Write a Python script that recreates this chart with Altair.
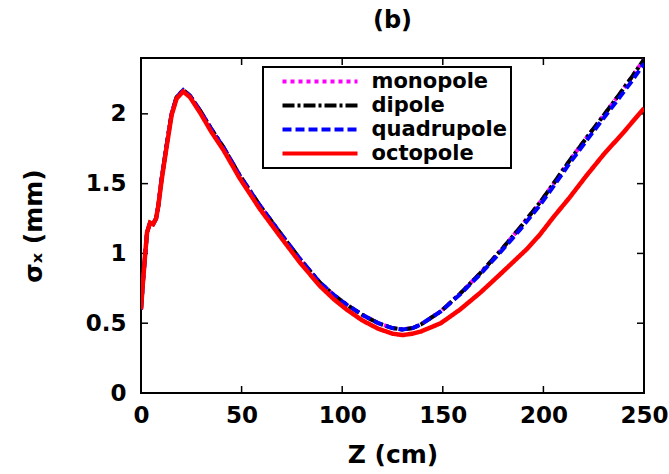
import altair as alt
import pandas as pd

series = ["monopole", "dipole", "quadrupole", "octopole"]
colors = ["#ff00ff", "#000000", "#0000ff", "#ff0000"]
dashes = [[4, 4], [12, 3, 3, 3], [9, 4], [1, 0]]

z_octo = [0, 1, 2, 3, 4.5, 6, 7.5, 8.6, 10.3, 12.8, 15.2, 17.7, 21, 24.3, 29.3, 35, 41, 49, 59, 69, 79, 89, 96,
          102, 110, 118, 125, 130, 135, 139, 149, 158.5, 168.5, 178.4, 191.7, 198, 205, 213, 221, 230, 240, 250]
s_octo = [0.60, 0.80, 0.98, 1.15, 1.22, 1.21, 1.25, 1.34, 1.53, 1.77, 1.99, 2.11, 2.16, 2.12, 2.01, 1.87, 1.74,
          1.54, 1.32, 1.125, 0.935, 0.765, 0.67, 0.60, 0.52, 0.46, 0.425, 0.415, 0.425, 0.44, 0.50, 0.597, 0.717,
          0.849, 1.03, 1.13, 1.26, 1.40, 1.55, 1.71, 1.87, 2.04]

z_quad = [0, 1, 2, 3, 4.5, 6, 7.5, 8.6, 10.3, 12.8, 15.2, 17.7, 21, 24.3, 29.3, 35, 41, 49, 59, 69, 79, 89, 96,
          102, 110, 118, 125, 130, 135, 139, 149, 158.5, 168.5, 178.4, 188.4, 198, 205, 213, 221.5, 230, 238, 244, 250]
s_quad = [0.60, 0.80, 0.98, 1.15, 1.22, 1.21, 1.25, 1.34, 1.54, 1.78, 2.00, 2.12, 2.17, 2.13, 2.025, 1.89, 1.76,
          1.56, 1.345, 1.15, 0.96, 0.79, 0.70, 0.635, 0.56, 0.50, 0.465, 0.455, 0.465, 0.49, 0.585, 0.705, 0.849,
          1.005, 1.17, 1.34, 1.48, 1.645, 1.81, 1.97, 2.12, 2.235, 2.36]

z_dip = [0, 1, 2, 3, 4.5, 6, 7.5, 8.6, 10.3, 12.8, 15.2, 17.7, 21, 24.3, 29.3, 35, 41, 49, 59, 69, 79, 89, 96,
         102, 110, 118, 125, 130, 135, 139, 149, 158.5, 168.5, 178.4, 188.4, 198, 205, 213, 221.5, 230, 238, 244, 250]
s_dip = [0.60, 0.80, 0.98, 1.15, 1.22, 1.21, 1.25, 1.34, 1.54, 1.78, 2.00, 2.12, 2.17, 2.13, 2.025, 1.89, 1.76,
         1.56, 1.345, 1.15, 0.96, 0.79, 0.70, 0.635, 0.56, 0.50, 0.465, 0.455, 0.465, 0.49, 0.585, 0.71, 0.857,
         1.015, 1.185, 1.36, 1.50, 1.665, 1.83, 1.99, 2.145, 2.265, 2.39]

z_mono = list(z_dip)
s_mono = [0.60, 0.80, 0.98, 1.15, 1.22, 1.21, 1.25, 1.34, 1.54, 1.78, 2.00, 2.12, 2.17, 2.13, 2.025, 1.89, 1.76,
          1.56, 1.345, 1.15, 0.96, 0.79, 0.70, 0.635, 0.56, 0.50, 0.465, 0.455, 0.465, 0.49, 0.585, 0.71, 0.857,
          1.015, 1.185, 1.36, 1.50, 1.665, 1.83, 1.99, 2.145, 2.265, 2.39]

x_ticks = [0, 50, 100, 150, 200, 250]
y_ticks = [0, 0.5, 1, 1.5, 2]

rows = []
for name, zs, ss in [("monopole", z_mono, s_mono), ("dipole", z_dip, s_dip),
                     ("quadrupole", z_quad, s_quad), ("octopole", z_octo, s_octo)]:
    for i, (z, s) in enumerate(zip(zs, ss)):
        rows.append({"Z": z, "sigma": s, "series": name, "idx": i})
df = pd.DataFrame(rows)

W, H = 503, 335
FONT = "DejaVu Sans"
TL = 7

xscale = alt.Scale(domain=[0, 250], nice=False, zero=False)
yscale = alt.Scale(domain=[0, 2.4], nice=False)
xaxis = alt.Axis(title="Z (cm)", values=x_ticks, tickSize=0, domain=False, grid=False,
                 labelFontSize=23, labelFont=FONT, labelFontWeight="bold", labelColor="black",
                 labelPadding=11, titleFontSize=25, titleFont=FONT, titleFontWeight="bold",
                 titleColor="black", titlePadding=15, labelFlush=False)
yaxis = alt.Axis(title="σₓ (mm)", values=y_ticks, format="~g", tickSize=0, domain=False, grid=False,
                 labelFontSize=23, labelFont=FONT, labelFontWeight="bold", labelColor="black",
                 labelPadding=15, titleFontSize=25, titleFont=FONT, titleFontWeight="bold",
                 titleColor="black", titlePadding=39, labelFlush=False)

legend = alt.Legend(title=None, orient="none", legendX=122, legendY=9,
                    symbolType="M-7.5,0H7.5", symbolSize=100, symbolStrokeWidth=4,
                    symbolOffset=42.5, labelOffset=41,
                    labelFontSize=21, labelFont=FONT, labelFontWeight="bold", labelColor="black",
                    padding=4, strokeColor="black", fillColor="white", rowPadding=2, labelLimit=300)

color = alt.Color("series:N", scale=alt.Scale(domain=series, range=colors), legend=legend)
dash = alt.StrokeDash("series:N", scale=alt.Scale(domain=series, range=dashes), legend=legend)

layers = []
for name in series:
    layers.append(
        alt.Chart(df).transform_filter(alt.datum.series == name)
        .mark_line(strokeWidth=4.5 if name == "octopole" else 4, clip=True)
        .encode(x=alt.X("Z:Q", scale=xscale, axis=xaxis),
                y=alt.Y("sigma:Q", scale=yscale, axis=yaxis),
                color=color, strokeDash=dash, order="idx:Q")
    )

xt = pd.DataFrame({"Z": x_ticks})
yt = pd.DataFrame({"sigma": y_ticks})
rule = dict(color="black", strokeWidth=1.5)
bottom = alt.Chart(xt).mark_rule(**rule).encode(
    x=alt.X("Z:Q", scale=xscale, axis=xaxis), y=alt.value(H), y2=alt.value(H - TL))
top = alt.Chart(xt).mark_rule(**rule).encode(
    x=alt.X("Z:Q", scale=xscale, axis=xaxis), y=alt.value(0), y2=alt.value(TL))
left = alt.Chart(yt).mark_rule(**rule).encode(
    y=alt.Y("sigma:Q", scale=yscale, axis=yaxis), x=alt.value(0), x2=alt.value(TL))
right = alt.Chart(yt).mark_rule(**rule).encode(
    y=alt.Y("sigma:Q", scale=yscale, axis=yaxis), x=alt.value(W), x2=alt.value(W - TL))

chart = alt.layer(bottom, top, left, right, *layers).properties(
    width=W, height=H,
    title=alt.Title("(b)", fontSize=24, font=FONT, fontWeight="bold", color="black",
                    offset=24, anchor="middle"),
    autosize=alt.AutoSizeParams(type="none"),
    padding={"left": 141, "top": 58, "right": 25, "bottom": 81},
).configure_view(stroke="black", strokeWidth=2).configure_legend(strokeWidth=2)

chart.save("out.html", embed_options={"renderer": "svg", "actions": False})
